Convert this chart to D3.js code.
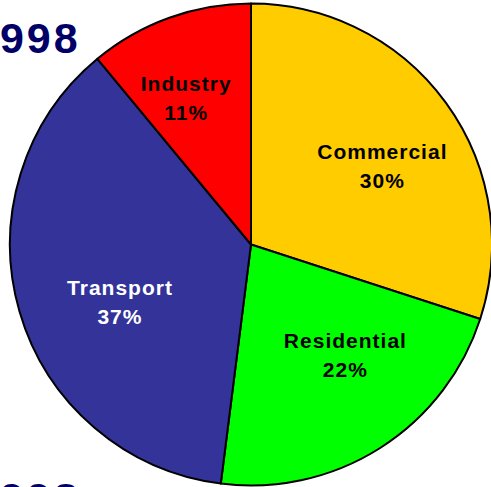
<!DOCTYPE html>
<html>
<head>
<meta charset="utf-8">
<script src="https://cdn.jsdelivr.net/npm/d3@7/dist/d3.min.js"></script>
<style>
  html, body { margin: 0; padding: 0; background: #ffffff; overflow: hidden; }
  svg { display: block; }
</style>
</head>
<body>
<script>
// ---- data ----
const categories = ["Commercial", "Residential", "Transport", "Industry"];
const shares = [30, 22, 37, 11];
const sliceColors = ["#FFCC00", "#00FF00", "#333399", "#FF0000"];
const labelColors = ["#000000", "#000000", "#FFFFFF", "#000000"];
const titles = ["1998", "1998"];

// ---- layout ----
const W = 491, H = 487;
const cx = 251, cy = 244.5, R = 241;
// small per-label nudges from the arc centroid (px)
const labelNudge = [[10, 9], [14, -17], [13, 15], [-14, -6]];

const svg = d3.select("body").append("svg")
  .attr("width", W).attr("height", H);

const pie = d3.pie().sort(null).value(d => d.v);
const arc = d3.arc().innerRadius(0).outerRadius(R);
const labelArc = d3.arc().innerRadius(150).outerRadius(150);

const data = categories.map((c, i) => ({ c, v: shares[i], col: sliceColors[i], lc: labelColors[i], i }));
const arcs = pie(data);

const g = svg.append("g").attr("transform", `translate(${cx},${cy})`);

g.selectAll("path.slice").data(arcs).enter().append("path")
  .attr("class", "slice")
  .attr("d", arc)
  .attr("fill", d => d.data.col)
  .attr("stroke", "#000")
  .attr("stroke-width", 2)
  .attr("stroke-linejoin", "round");

const labels = g.selectAll("text.lbl").data(arcs).enter().append("text")
  .attr("class", "lbl")
  .attr("transform", d => {
    const [x, y] = labelArc.centroid(d);
    const n = labelNudge[d.data.i];
    return `translate(${x + n[0]},${y + n[1]})`;
  })
  .attr("text-anchor", "middle")
  .attr("font-family", "Liberation Sans, Arial, sans-serif")
  .attr("font-weight", "bold")
  .attr("font-size", 21)
  .attr("letter-spacing", 1)
  .attr("fill", d => d.data.lc);

labels.append("tspan").attr("x", 0).attr("y", -6).text(d => d.data.c);
labels.append("tspan").attr("x", 0).attr("y", 23).text(d => d.data.v + "%");

// titles (partly off-canvas, as in the reference)
const titleFont = { family: "Liberation Sans, Arial, sans-serif", size: 43, ls: 3 };
[[-27, 53], [-27, 513]].forEach((p, k) => {
  svg.append("text")
    .attr("x", p[0]).attr("y", p[1])
    .attr("font-family", titleFont.family)
    .attr("font-weight", "bold").attr("font-size", titleFont.size)
    .attr("letter-spacing", titleFont.ls)
    .attr("fill", "#000066")
    .text(titles[k]);
});
</script>
</body>
</html>
